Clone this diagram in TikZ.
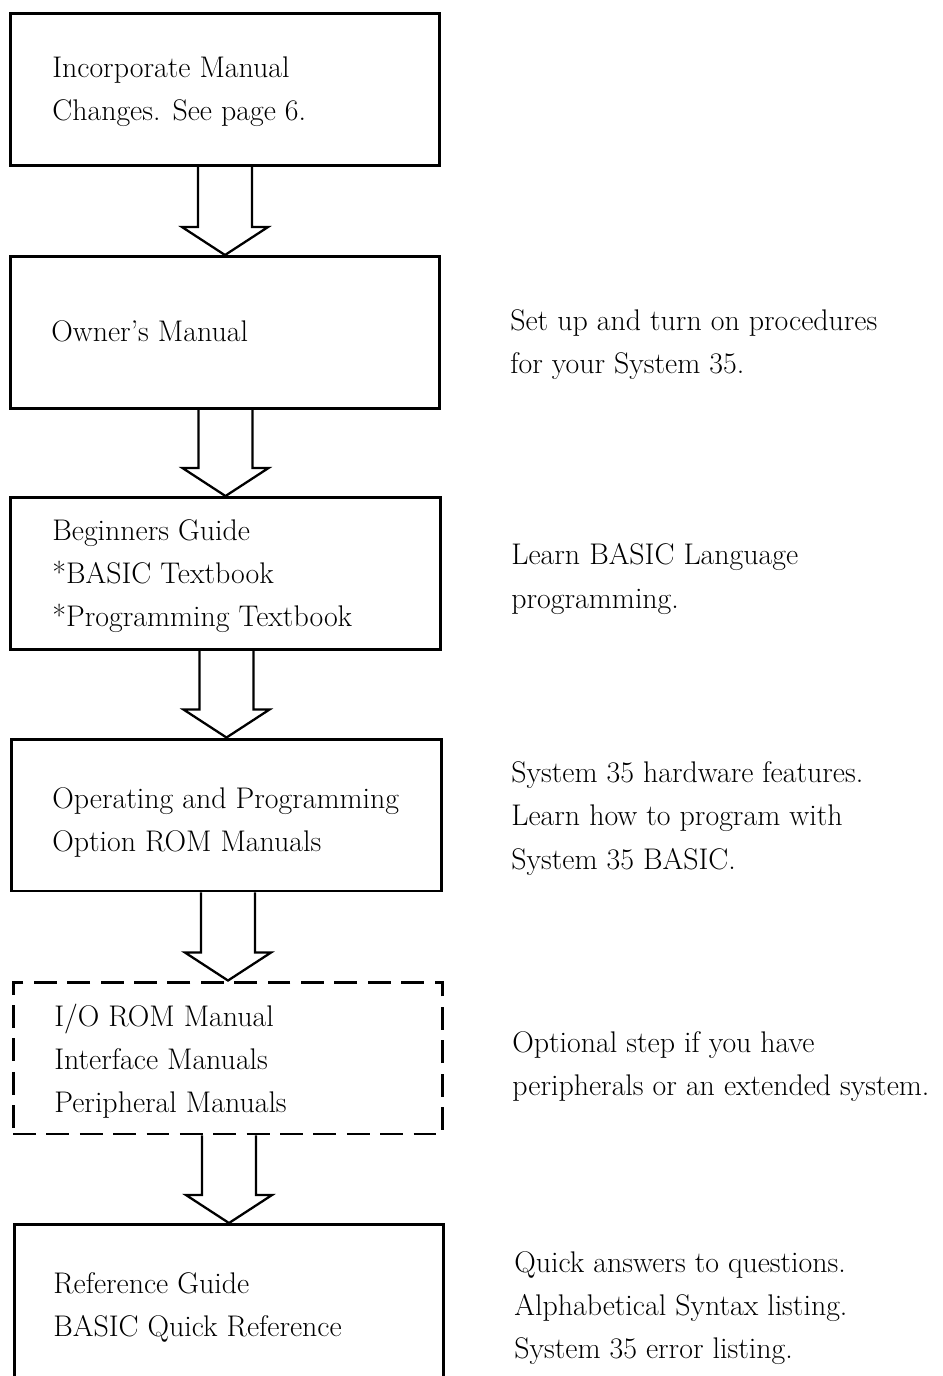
\documentclass[tikz,border=0pt]{standalone}
\usetikzlibrary{calc}
\begin{document}
\begin{tikzpicture}
	[x=0.02cm, y=-0.02cm, line join=miter,
	manual/.style	= {rectangle, draw, line width=1.7pt, inner sep=0pt, minimum width=8.6cm, minimum height=3.04cm},
	optional/.style	= {manual, dash pattern=on 13pt off 6pt},
	boxtext/.style	= {anchor=west, align=left, inner sep=0pt, font=\fontsize{17}{24.5}\selectfont},
	note/.style		= {boxtext},
	flow/.style		= {line width=1.3pt}]
	
	\useasboundingbox (0,0) rectangle (943,1376);
	\clip (0,0) rectangle (943,1376);
	
	\node at (225, 89.5)	[manual]	(b1)	{};
	\node at (225, 332.5)	[manual]	(b2)	{};
	\node at (225.5, 573.5)	[manual]	(b3)	{};
	\node at (226.5, 815)	[manual]	(b4)	{};
	\node at (228, 1058)	[optional]	(b5)	{};
	\node at (229, 1303.5)	[manual, minimum height=3.16cm]	(b6)	{};
	
	\node at (52, 91.5)		[boxtext]	(t1)	{Incorporate Manual\\Changes. See page 6.};
	\node at (51, 331)		[boxtext]	(t2)	{Owner's Manual};
	\node at (52, 576)		[boxtext]	(t3)	{Beginners Guide\\*BASIC Textbook\\*Programming Textbook};
	\node at (52, 822)		[boxtext]	(t4)	{Operating and Programming\\Option ROM Manuals};
	\node at (54, 1061)		[boxtext]	(t5)	{I/O ROM Manual\\Interface Manuals\\Peripheral Manuals};
	\node at (53, 1307)		[boxtext]	(t6)	{Reference Guide\\BASIC Quick Reference};
	
	\node at (510, 344.5)	[note]		(n2)	{Set up and turn on procedures\\for your System 35.};
	\node at (511, 579)		[note]		(n3)	{Learn BASIC Language\\programming.};
	\node at (511, 818.5)	[note]		(n4)	{System 35 hardware features.\\Learn how to program with\\System 35 BASIC.};
	\node at (512, 1066.5)	[note]		(n5)	{Optional step if you have\\peripherals or an extended system.};
	\node at (514, 1308.5)	[note]		(n6)	{Quick answers to questions.\\Alphabetical Syntax listing.\\System 35 error listing.};
	
	\draw [flow] ($(b1.south -| b2.north)+(-27,0)$) -- ($(b2.north)+(-27,-28)$) -- ($(b2.north)+(-43,-28)$) -- (b2.north) -- ($(b2.north)+(43,-28)$) -- ($(b2.north)+(27,-28)$) -- ($(b1.south -| b2.north)+(27,0)$);
	\draw [flow] ($(b2.south -| b3.north)+(-27,0)$) -- ($(b3.north)+(-27,-28)$) -- ($(b3.north)+(-43,-28)$) -- (b3.north) -- ($(b3.north)+(43,-28)$) -- ($(b3.north)+(27,-28)$) -- ($(b2.south -| b3.north)+(27,0)$);
	\draw [flow] ($(b3.south -| b4.north)+(-27,0)$) -- ($(b4.north)+(-27,-28)$) -- ($(b4.north)+(-43,-28)$) -- (b4.north) -- ($(b4.north)+(43,-28)$) -- ($(b4.north)+(27,-28)$) -- ($(b3.south -| b4.north)+(27,0)$);
	\draw [flow] ($(b4.south -| b5.north)+(-27,0)$) -- ($(b5.north)+(-27,-28)$) -- ($(b5.north)+(-43,-28)$) -- (b5.north) -- ($(b5.north)+(43,-28)$) -- ($(b5.north)+(27,-28)$) -- ($(b4.south -| b5.north)+(27,0)$);
	\draw [flow] ($(b5.south -| b6.north)+(-27,0)$) -- ($(b6.north)+(-27,-28)$) -- ($(b6.north)+(-43,-28)$) -- (b6.north) -- ($(b6.north)+(43,-28)$) -- ($(b6.north)+(27,-28)$) -- ($(b5.south -| b6.north)+(27,0)$);
\end{tikzpicture}
\end{document}
